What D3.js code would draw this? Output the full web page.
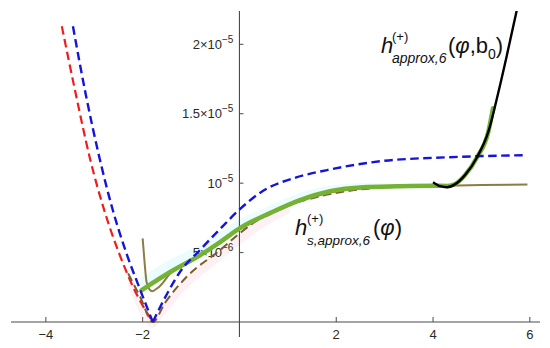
<!DOCTYPE html>
<html>
<head>
<meta charset="utf-8">
<script src="https://cdn.jsdelivr.net/npm/d3@7"></script>
<style>
  body { margin: 0; background: #fff; }
  svg { display: block; font-family: "Liberation Sans", Arial, sans-serif; }
</style>
</head>
<body>
<div id="chart"></div>
<script>
// values in units of 1e-6 on the y side, phi on the x side
const xTicks = [-4, -2, 2, 4, 6];
const xTickLabels = ["\u22124", "\u22122", "2", "4", "6"];
const yTicks = [5, 10, 15, 20];
const yTickMant = ["5\u00d7", "", "1.5\u00d7", "2\u00d7"];
const yTickExp = ["\u22126", "\u22125", "\u22125", "\u22125"];

const redDashed = [[-3.67, 21.3], [-3.38, 16.4], [-3.09, 11.8], [-2.78, 7.9], [-2.47, 4.8], [-2.16, 2.25], [-1.79, 0]];
const blueLeft = [[-3.44, 21.3], [-3.17, 16.3], [-2.89, 11.8], [-2.62, 8.1], [-2.34, 5.0], [-2.06, 2.4], [-1.79, 0]];
const blueRight = [[-1.79, 0], [-1.50, 2.0], [-1.23, 3.6], [-0.81, 5.2], [-0.40, 6.7], [0.0, 8.1], [0.49, 9.45], [1.19, 10.43], [1.81, 10.94], [2.91, 11.58], [4.35, 11.87], [5.94, 12.02]];
const brownDashed = [[-2.30, 3.5], [-2.05, 1.8], [-1.79, 0], [-1.54, 1.37], [-1.09, 3.26], [-0.40, 5.18], [0.01, 6.4], [0.28, 7.12], [0.70, 7.95], [1.05, 8.45], [1.6, 9.0], [2.5, 9.55], [3.5, 9.75]];
const oliveLine = [[-2.00, 6.02], [-1.96, 4.3], [-1.92, 2.9], [-1.86, 2.35], [-1.80, 2.22], [-1.72, 2.38], [-1.64, 2.6], [-1.43, 3.5], [-0.81, 4.75], [-0.40, 5.7], [0.01, 6.68], [0.63, 7.78], [1.25, 8.7], [1.87, 9.33], [2.56, 9.63], [3.26, 9.74], [4.27, 9.82], [5.0, 9.86], [5.95, 9.9]];
const greenLine = [[-2.02, 2.30], [-1.43, 3.60], [-0.81, 4.82], [-0.40, 5.76], [0.01, 6.76], [0.63, 7.84], [1.25, 8.78], [1.87, 9.42], [2.56, 9.71], [3.26, 9.78], [4.0, 9.82], [4.3, 9.80], [4.46, 9.95], [4.66, 10.58], [4.91, 11.87], [5.14, 13.67], [5.24, 15.4]];
const blackLine = [[4.00, 10.07], [4.15, 9.78], [4.29, 9.71], [4.46, 9.93], [4.66, 10.58], [4.91, 11.87], [5.14, 13.67], [5.35, 16.55], [5.53, 19.28], [5.73, 22.45]];
// faint bands around the curves
const cyanBand = [[-2.05, 1.9, 3.2], [-1.43, 3.6, 4.5], [-0.81, 4.82, 5.6], [-0.40, 5.76, 6.5], [0.01, 6.76, 7.4], [0.63, 7.84, 8.4], [1.25, 8.78, 9.3], [1.87, 9.42, 9.8], [2.56, 9.71, 10.0], [3.26, 9.78, 10.0]];
const pinkBand = [[-2.30, 2.6, 3.5], [-1.79, -0.4, 0.3], [-1.54, 0.6, 1.4], [-1.09, 2.4, 3.3], [-0.40, 4.4, 5.2], [0.28, 6.3, 7.1], [1.05, 7.9, 8.5]];

const W = 550, H = 348;
const x = d3.scaleLinear().domain([-4.72, 6.21]).range([11, 540]);
const y = d3.scaleLinear().domain([-1.08, 22.4]).range([337, 11]);

const svg = d3.select("#chart").append("svg")
  .attr("width", W).attr("height", H);

svg.append("defs").append("clipPath").attr("id", "plot")
  .append("rect").attr("x", 0).attr("y", 11).attr("width", W).attr("height", 326);

// bands
const area = d3.area().x(d => x(d[0])).y0(d => y(d[1])).y1(d => y(d[2])).curve(d3.curveMonotoneX);
svg.append("path").attr("d", area(cyanBand)).attr("fill", "#eafcfc");
svg.append("path").attr("d", area(pinkBand)).attr("fill", "#fdf1f5");

// axes
const axisColor = "#4a4a4a";
const labelColor = "#2a2a2a";
const g = svg.append("g");
g.append("line").attr("x1", 11).attr("x2", 540).attr("y1", y(0)).attr("y2", y(0))
  .attr("stroke", axisColor).attr("stroke-width", 1.1);
g.append("line").attr("x1", x(0)).attr("x2", x(0)).attr("y1", 11).attr("y2", 337)
  .attr("stroke", axisColor).attr("stroke-width", 1.1);

g.selectAll(".xt").data(xTicks).join("line")
  .attr("x1", d => x(d)).attr("x2", d => x(d))
  .attr("y1", y(0)).attr("y2", y(0) - 5)
  .attr("stroke", axisColor);
g.selectAll(".xl").data(xTicks).join("text")
  .attr("x", d => x(d)).attr("y", y(0) + 17)
  .attr("text-anchor", "middle").attr("font-size", 13).attr("fill", labelColor)
  .text((d, i) => xTickLabels[i]);

g.selectAll(".yt").data(yTicks).join("line")
  .attr("x1", x(0)).attr("x2", x(0) + 4)
  .attr("y1", d => y(d)).attr("y2", d => y(d))
  .attr("stroke", axisColor);
const yl = g.selectAll(".yl").data(yTicks).join("text")
  .attr("x", x(0) - 6).attr("y", d => y(d) + 4.5)
  .attr("text-anchor", "end").attr("font-size", 13).attr("fill", labelColor);
yl.append("tspan").text((d, i) => yTickMant[i] + "10");
yl.append("tspan").attr("font-size", 10).attr("dy", -6).text((d, i) => yTickExp[i]);

// curves
const line = d3.line().x(d => x(d[0])).y(d => y(d[1])).curve(d3.curveMonotoneX);
const curves = svg.append("g").attr("clip-path", "url(#plot)");
const dash = "8.5,4.5";
curves.append("path").attr("d", line(redDashed)).attr("fill", "none")
  .attr("stroke", "#ee1c1c").attr("stroke-width", 2.2).attr("stroke-dasharray", dash);
curves.append("path").attr("d", line(brownDashed)).attr("fill", "none")
  .attr("stroke", "#7d5c2a").attr("stroke-width", 2).attr("stroke-dasharray", dash);
curves.append("path").attr("d", line(oliveLine)).attr("fill", "none")
  .attr("stroke", "#8a7d45").attr("stroke-width", 2);
curves.append("path").attr("d", line(greenLine)).attr("fill", "none")
  .attr("stroke", "#74b236").attr("stroke-width", 4.5).attr("stroke-linecap", "round");
curves.append("path").attr("d", line(blueLeft)).attr("fill", "none")
  .attr("stroke", "#1515d8").attr("stroke-width", 2.4).attr("stroke-dasharray", dash);
curves.append("path").attr("d", line(blueRight)).attr("fill", "none")
  .attr("stroke", "#1515d8").attr("stroke-width", 2.4).attr("stroke-dasharray", dash);
curves.append("path").attr("d", line(blackLine)).attr("fill", "none")
  .attr("stroke", "#000").attr("stroke-width", 2.4);

// labels
const lab1 = svg.append("text").attr("x", 381).attr("y", 53).attr("font-size", 22).attr("fill", "#111");
lab1.append("tspan").attr("font-style", "italic").text("h");
lab1.append("tspan").attr("font-size", 13).attr("x", 392).attr("y", 41).text("(+)");
lab1.append("tspan").attr("font-size", 14).attr("font-style", "italic").attr("x", 392).attr("y", 63).text("approx,6");
lab1.append("tspan").attr("x", 448).attr("y", 53).text("(");
lab1.append("tspan").attr("font-style", "italic").text("\u03c6");
lab1.append("tspan").text(",b");
lab1.append("tspan").attr("font-size", 14).attr("dy", 6).text("0");
lab1.append("tspan").attr("dy", -6).text(")");

const lab2 = svg.append("text").attr("x", 295).attr("y", 235).attr("font-size", 22).attr("fill", "#111");
lab2.append("tspan").attr("font-style", "italic").text("h");
lab2.append("tspan").attr("font-size", 13).attr("x", 307).attr("y", 223).text("(+)");
lab2.append("tspan").attr("font-size", 13.5).attr("font-style", "italic").attr("x", 307).attr("y", 245).text("s,approx,6");
lab2.append("tspan").attr("x", 373).attr("y", 235).text("(");
lab2.append("tspan").attr("font-style", "italic").text("\u03c6");
lab2.append("tspan").text(")");
</script>
</body>
</html>
